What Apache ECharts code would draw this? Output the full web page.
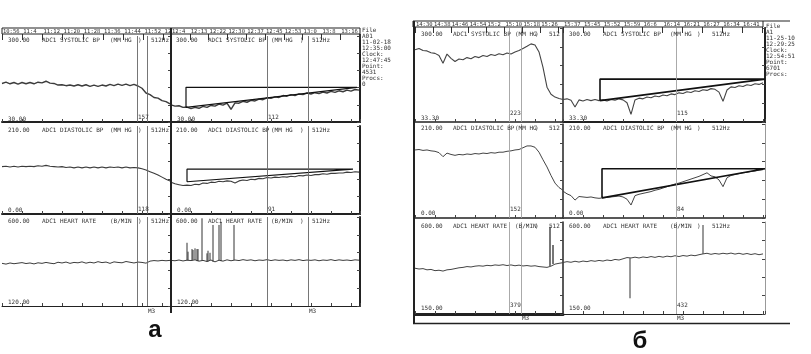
<!DOCTYPE html>
<html><head><meta charset="utf-8">
<script src="https://cdn.jsdelivr.net/npm/echarts@6/dist/echarts.min.js"></script>
<style>html,body{margin:0;padding:0;background:#fff}#c{width:811px;height:354px}</style>
</head><body><div id="c"></div>
<script>
// ================= DATA : panel а =================
const timeA_L = ['10:56','11:4','11:12','11:20','11:28','11:36','11:44','11:52','12'];
const timeA_R = ['12:4','12:13','12:22','12:30','12:37','12:45','12:53','13:0','13:8','13:16'];
const sysA_L = [151,155,150,154,149,154,150,154,150,155,153,158,152,151,146,147,144,146,143,147,143,147,142,146,142,146,143,148,144,149,145,149,144,148,143,136,121,116,107,105,97,94,87];
const sysA_R = [84,80,81,76,77,72,76,73,79,76,82,80,86,83,89,70,90,89,95,92,98,96,102,100,106,104,109,107,113,111,116,113,118,116,121,118,122,119,124,121,126,123,128,125,130,127,132,130];
const diaA_L = [113,114,112,114,112,114,113,114,113,115,114,116,114,113,112,113,111,112,110,112,110,112,110,112,110,112,110,112,111,112,110,112,110,111,110,108,105,101,97,93,88,83,79];
const diaA_R = [76,72,70,68,69,68,71,70,74,73,76,75,78,77,79,78,74,79,81,80,83,82,85,84,87,86,88,87,89,88,90,89,92,91,93,92,94,94,96,95,97,97,98,98,100,99,101,100];
const hrA_L = [350,346,352,348,351,354,349,352,347,353,350,355,351,348,356,352,357,350,355,353,358,351,356,352,359,354,357,350,358,355,353,360,356,352,357,355,351,362,365,363,366,364,366];
const hrA_R = [366,364,368,363,367,365,369,362,366,360,368,358,367,362,369,364,368,365,370,366,369,364,368,366,370,365,369,366,368,364,369,366,370,365,368,366,369,364,368,366,370,365,369,366,368,365,369,367];
const triSysA = [[15,76],[15,139],[186,139],[15,76]];
const triDiaA = [[16,77],[16,107],[182,107],[16,77]];
const spikeA_x = [16,17,21,22,24,26,27,31,36,37,39,42,48,50,63];
const spikeA_top = [461,413,427,422,431,427,427,593,404,418,407,557,557,574,557];
const cursorA_L = [135,145];
const cursorA_R = [96,137];
const readSysA = [157,112];
const readDiaA = [118,91];
const rangeSysA = [30,300], rangeDiaA = [0,210], rangeHrA = [120,600];
const headA = [['ADC1 SYSTOLIC BP','(MM HG',')','512Hz'],['ADC1 DIASTOLIC BP','(MM HG',')','512Hz'],['ADC1 HEART RATE','(B/MIN',')','512Hz']];
const fileA = ['File','A01','11-02-18','12:35:00','Clock:','12:47:45','Point:','4531','Procs:','0'];

// ================= DATA : panel б =================
const timeB_L = ['14:30','14:38','14:46','14:54','15:2','15:10','15:18','15:26'];
const timeB_R = ['15:37','15:45','15:52','15:59','16:6','16:14','16:21','16:27','16:34','16:41'];
const sysB_L = [238,242,236,235,230,228,222,200,226,214,205,212,210,216,213,219,216,222,219,225,222,227,224,229,226,232,236,242,248,255,252,232,188,132,112,104,100,97];
const sysB_R = [97,99,95,76,96,93,97,94,97,94,96,93,97,95,99,96,88,55,96,101,99,104,102,107,105,110,108,113,111,116,114,119,117,122,120,125,123,128,126,118,92,124,133,131,136,134,139,137,142,140,145];
const diaB_L = [152,153,151,152,150,149,146,137,145,142,140,142,141,143,142,144,143,145,144,146,145,147,147,149,150,152,153,157,161,161,158,147,130,114,95,78,68,62];
const diaB_R = [60,54,50,40,48,47,46,47,45,44,45,46,47,48,49,47,42,29,50,53,55,57,59,62,64,67,70,73,76,78,81,84,87,90,93,97,101,94,92,85,70,90,95,97,99,101,102,104,105,107,108];
const hrB_L = [374,370,372,366,368,362,364,360,366,368,372,376,378,382,380,384,386,384,388,386,390,388,391,387,390,386,389,385,387,384,386,382,380,378,384,394,398,401];
const hrB_R = [402,406,403,408,404,409,406,411,408,412,409,414,411,417,414,420,426,424,428,424,429,426,431,427,432,428,433,430,435,431,436,433,438,435,440,444,447,442,446,443,447,444,448,443,447,442,446,441,445,440,444];
const triSysB = [[37,94],[37,155],[202,155],[37,94]];
const triDiaB = [[39,45],[39,110],[202,110],[39,45]];
const spikeB_Lx = [135,138], spikeB_Ltop = [577,487];
const spikeB_Rx = [67,140], spikeB_Rtop = [227,585];
const cursorB_L = [94,106];
const cursorB_R = [113];
const readSysB = [223,115], readDiaB = [152,84], readHrB = [379,432];
const rangeSysB = [33.3,300], rangeDiaB = [0,210], rangeHrB = [150,600];
const headB = [['ADC1 SYSTOLIC BP','(MM HG',')','512'],['ADC1 DIASTOLIC BP','(MM HG',')','512'],['ADC1 HEART RATE','(B/MIN',')','512']];
const headB_R = [['ADC1 SYSTOLIC BP','(MM HG',')','512Hz'],['ADC1 DIASTOLIC BP','(MM HG',')','512Hz'],['ADC1 HEART RATE','(B/MIN',')','512Hz']];
const fileB = ['File','A1','11-25-10','12:29:25','Clock:','12:54:51','Point:','6701','Procs:'];
const markLabel = 'M3';

// ================= BUILD =================
const mono = "'DejaVu Sans Mono', monospace";
const ink = '#333';
const STEP = 4;
const grids = [], xAxis = [], yAxis = [], series = [], graphic = [];

function txt(x, y, text, opt) {
  graphic.push({type:'text', x, y, silent:true, z:10,
    style:Object.assign({text, fontSize:6, fontFamily:mono, fill:ink, verticalAlign:'middle', align:'left'}, opt || {})});
}
function gline(x1,y1,x2,y2,w,c){
  graphic.push({type:'line', silent:true, z:9, shape:{x1,y1,x2,y2}, style:{stroke:c||'#222', lineWidth:w}});
}
function cell(o) {
  const gi = grids.length;
  grids.push({left:o.left, top:o.top, width:o.width, height:o.height});
  const xi = xAxis.length;
  xAxis.push({gridIndex:gi, type:'value', min:0, max:o.xmax, interval:20,
    axisLine:{show:true, onZero:false, lineStyle:{color:o.xc||'#222', width:o.xw}},
    axisTick:{show:true, inside:true, length:3, lineStyle:{color:'#444', width:1}},
    axisLabel:{show:false}, splitLine:{show:false}});
  const yi = yAxis.length;
  yAxis.push({gridIndex:gi, type:'value', min:o.range[0], max:o.range[1], show:false, splitLine:{show:false}});
  yAxis.push({gridIndex:gi, type:'value', min:0, max:5, interval:1,
    axisLine:{show:true, onZero:false, lineStyle:{color:o.yc||'#222', width:o.yw}},
    axisTick:{show:true, inside:true, length:3, lineStyle:{color:'#444'}},
    axisLabel:{show:false}, splitLine:{show:false}});
  return {xi, yi, o};
}
function timeBar(left, top, width, height, max, labels) {
  const gi = grids.length;
  grids.push({left, top, width, height});
  xAxis.push({gridIndex:gi, type:'value', position:'top', min:0, max, interval:1,
    axisLine:{show:false},
    axisTick:{show:true, inside:true, length:height, lineStyle:{color:'#333', width:1}},
    axisLabel:{show:true, inside:true, margin:0.5, fontSize:5.5, fontFamily:mono, color:ink, align:'left', verticalAlign:'top', padding:[0,0,0,1],
      formatter:v => Number.isInteger(v) ? (labels[v] || '') : ''},
    splitLine:{show:false}});
  yAxis.push({gridIndex:gi, type:'value', show:false});
}
function trace(ax, vals, color, width, cursors, cursorColor) {
  const s = {type:'line', xAxisIndex:ax.xi, yAxisIndex:ax.yi, data:vals.map((v,i)=>[i*STEP, v]),
    showSymbol:false, symbol:'none', lineStyle:{color, width}, animation:false, silent:true, z:3};
  if (cursors && cursors.length) s.markLine = {silent:true, symbol:['none','none'], animation:false, label:{show:false},
    lineStyle:{color:cursorColor, width:0.9, type:'solid'}, data:cursors.map(c=>({xAxis:c}))};
  series.push(s);
}
function poly(ax, pts, w) {
  series.push({type:'line', xAxisIndex:ax.xi, yAxisIndex:ax.yi, data:pts, showSymbol:false, symbol:'none',
    lineStyle:{color:'#111', width:w}, animation:false, silent:true, z:4});
}
function spikes(ax, xs, tops, base, w, color) {
  series.push({type:'custom', xAxisIndex:ax.xi, yAxisIndex:ax.yi, silent:true, animation:false, z:4,
    data:xs.map((x,i)=>[x, base[Math.round(x/STEP)], tops[i]]),
    renderItem:(p, api) => {
      const a = api.coord([api.value(0), api.value(1)]), b = api.coord([api.value(0), api.value(2)]);
      return {type:'line', shape:{x1:a[0], y1:a[1], x2:b[0], y2:b[1]}, style:{stroke:color, lineWidth:w}};
    }});
}
function labels(ax, xs, texts, yval, dy) {
  series.push({type:'custom', xAxisIndex:ax.xi, yAxisIndex:ax.yi, silent:true, animation:false, z:6, clip:false,
    data:xs.map(x=>[x, yval]),
    renderItem:(p, api) => {
      const c = api.coord([api.value(0), api.value(1)]);
      return {type:'text', x:c[0]+1, y:c[1]+dy, style:{text:String(texts[p.dataIndex]), fontSize:6, fontFamily:mono, fill:ink, verticalAlign:'middle', align:'left'}};
    }});
}

// ---------- panel а ----------
const A = {halves:[{left:2,width:169,max:169},{left:171,width:189,max:189}],
  rows:[{top:36,h:86,xw:2,lw:1.4},{top:126,h:88,xw:2,lw:1.1},{top:217,h:89,xw:1,lw:1}],
  headY:[40,130,221], botY:[119,210,302],
  headX:[[6,40,108,136,149],[5,37,100,129,141]]};
const rangesA = [rangeSysA, rangeDiaA, rangeHrA];
const dataA = [[sysA_L,sysA_R],[diaA_L,diaA_R],[hrA_L,hrA_R]];
const cursA = [cursorA_L, cursorA_R];
const readsA = [readSysA, readDiaA, null];
const cellsA = [];
A.rows.forEach((r, ri) => {
  cellsA.push(A.halves.map((h, hi) => {
    const ax = cell({left:h.left, top:r.top, width:h.width, height:r.h, xmax:h.max, range:rangesA[ri], xw:r.xw, yw:hi?2:1});
    trace(ax, dataA[ri][hi], '#3c3c3c', r.lw, cursA[hi], '#666');
    const hx = A.headX[hi];
    txt(h.left+hx[0], A.headY[ri], rangesA[ri][1].toFixed(2));
    headA[ri].forEach((t, k) => txt(h.left+hx[k+1], A.headY[ri], t));
    txt(h.left+6, A.botY[ri], rangesA[ri][0].toFixed(2));
    if (readsA[ri]) labels(ax, [cursA[hi][0]], [readsA[ri][hi]], rangesA[ri][0], -5);
    return ax;
  }));
});
poly(cellsA[0][1], triSysA, 1.2);
poly(cellsA[1][1], triDiaA, 1.2);
spikes(cellsA[2][1], spikeA_x, spikeA_top, hrA_R, 1, '#333');
labels(cellsA[2][0], [cursorA_L[1]], [markLabel], rangeHrA[0], 5);
labels(cellsA[2][1], [cursorA_R[1]], [markLabel], rangeHrA[0], 5);
timeBar(2, 28, 169, 6, 169/20.2, timeA_L);
timeBar(171, 28, 189, 6, 189/18.8, timeA_R);
graphic.push({type:'rect', silent:true, z:9, shape:{x:2, y:28, width:358, height:6}, style:{fill:'none', stroke:'#222', lineWidth:1}});
gline(171, 28, 171, 313, 2, '#222');
fileA.forEach((t, i) => txt(362, 30 + i*6, t));
txt(155, 330, 'a', {fontSize:24, fontWeight:'bold', fontFamily:"'Liberation Sans', Arial, sans-serif", fill:'#111', align:'center'});

// ---------- panel б ----------
const B = {halves:[{left:415,width:148,max:148},{left:563,width:202,max:202}],
  rows:[{top:28,h:94,xw:[1.5,2],lw:1.1},{top:124,h:94,xw:[1.5,1.5],lw:1},{top:222,h:92,xw:[3,1],lw:1}],
  headY:[34,128,226], botY:[118,213,308],
  headX:[[6,38,100,120,134],[6,40,107,134,149]]};
const rangesB = [rangeSysB, rangeDiaB, rangeHrB];
const dataB = [[sysB_L,sysB_R],[diaB_L,diaB_R],[hrB_L,hrB_R]];
const cursB = [cursorB_L, cursorB_R];
const readsB = [readSysB, readDiaB, readHrB];
const cellsB = [];
B.rows.forEach((r, ri) => {
  cellsB.push(B.halves.map((h, hi) => {
    const ax = cell({left:h.left, top:r.top, width:h.width, height:r.h, xmax:h.max, range:rangesB[ri],
      xw:r.xw[hi], yw: hi ? (ri===0?2:1) : 1.5, yc: hi && ri ? '#999' : '#222'});
    trace(ax, dataB[ri][hi], '#444', r.lw, cursB[hi], '#a0a0a0');
    const hx = B.headX[hi];
    const heads = hi ? headB_R : headB;
    txt(h.left+hx[0], B.headY[ri], rangesB[ri][1].toFixed(2));
    heads[ri].forEach((t, k) => txt(h.left+hx[k+1], B.headY[ri], t));
    txt(h.left+6, B.botY[ri], rangesB[ri][0].toFixed(2));
    labels(ax, [cursB[hi][0]], [readsB[ri][hi]], rangesB[ri][0], -9);
    return ax;
  }));
});
poly(cellsB[0][1], triSysB, 1.6);
poly(cellsB[1][1], triDiaB, 1.6);
spikes(cellsB[2][0], spikeB_Lx, spikeB_Ltop, hrB_L, 2, '#777');
spikes(cellsB[2][1], spikeB_Rx, spikeB_Rtop, hrB_R, 1.2, '#555');
labels(cellsB[2][0], [cursorB_L[1]], [markLabel], rangeHrB[0], 4);
labels(cellsB[2][1], [cursorB_R[0]], [markLabel], rangeHrB[0], 4);
timeBar(415, 21, 148, 6, 148/17.9, timeB_L);
timeBar(563, 21, 202, 6, 202/19.9, timeB_R);
graphic.push({type:'rect', silent:true, z:9, shape:{x:413, y:21, width:350, height:6}, style:{fill:'none', stroke:'#222', lineWidth:1}});
gline(763, 21, 790, 21, 1, '#222');
gline(414, 21, 414, 324, 2, '#222');
gline(413, 323.5, 790, 323.5, 1.5, '#222');
fileB.forEach((t, i) => txt(766, 26 + i*6, t));
txt(640, 341, 'б', {fontSize:24, fontWeight:'bold', fontFamily:"'Liberation Sans', Arial, sans-serif", fill:'#111', align:'center'});

const chart = echarts.init(document.getElementById('c'), null, {renderer:'canvas'});
chart.setOption({animation:false, backgroundColor:'#fff', grid:grids, xAxis, yAxis, series, graphic});
</script></body></html>
